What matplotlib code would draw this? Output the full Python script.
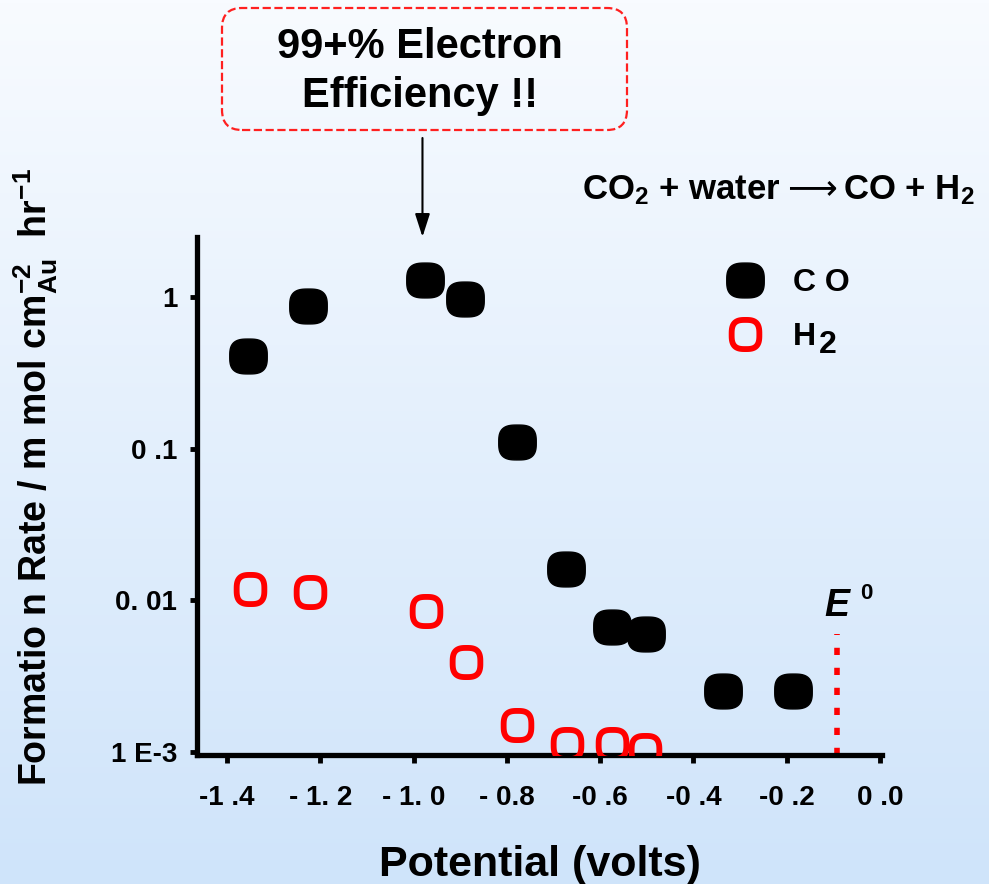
import numpy as np
import matplotlib
matplotlib.use('Agg')
import matplotlib.pyplot as plt
from matplotlib.path import Path
from matplotlib.patches import FancyBboxPatch
from matplotlib.colors import LinearSegmentedColormap

# data
co_v = [-1.355, -1.227, -0.975, -0.890, -0.779, -0.674, -0.574, -0.502, -0.337, -0.187]
co_rate = [0.41, 0.88, 1.30, 0.97, 0.11, 0.016, 0.0066, 0.0060, 0.0025, 0.0025]
h2_v = [-1.350, -1.223, -0.974, -0.888, -0.779, -0.672, -0.575, -0.504]
h2_rate = [0.0118, 0.0113, 0.0085, 0.0039, 0.00149, 0.00113, 0.00113, 0.00102]
e0_v = -0.092
e0_top = 0.006

x_ticks = [-1.4, -1.2, -1.0, -0.8, -0.6, -0.4, -0.2, 0.0]
x_labels = ['-1 .4', '- 1. 2', '- 1. 0', '- 0.8', '-0 .6', '-0 .4', '-0 .2', '0 .0']
y_ticks = [1, 0.1, 0.01, 0.001]
y_labels = ['1', '0 .1', '0. 01', '1 E-3']

plt.rcParams.update({
    'font.family': ['Liberation Sans', 'DejaVu Sans'],
    'font.weight': 'bold',
    'axes.labelweight': 'bold',
    'mathtext.fontset': 'custom',
    'mathtext.bf': 'Liberation Sans:bold',
    'mathtext.rm': 'Liberation Sans:bold',
    'mathtext.it': 'Liberation Sans:bold:italic',
    'mathtext.default': 'bf',
})

# rounded-square marker shapes
t = np.linspace(0, 2 * np.pi, 100)
sx = np.sign(np.cos(t)) * np.abs(np.cos(t)) ** 0.68
sy = np.sign(np.sin(t)) * np.abs(np.sin(t)) ** 0.68
co_marker = Path(np.column_stack([sx, sy * 0.93]), closed=True)
h2_marker = Path(np.column_stack([sx * 0.95, sy]), closed=True)

fig = plt.figure(figsize=(9.89, 8.84), dpi=100)

# light blue vertical gradient background
bg = fig.add_axes([0, 0, 1, 1], zorder=-10)
cmap = LinearSegmentedColormap.from_list('bg', ['#cfe4fa', '#f8fbff'])
bg.imshow(np.linspace(0, 1, 256).reshape(-1, 1)[::-1], aspect='auto', cmap=cmap,
          extent=[0, 1, 0, 1])
bg.axis('off')

ax = fig.add_axes([0.199, 0.146, 0.693, 0.586])
ax.set_facecolor('none')

ax.plot(co_v, co_rate, linestyle='none', marker=co_marker, markersize=27,
        color='black', label='C O', zorder=3)
ax.plot(h2_v, h2_rate, linestyle='none', marker=h2_marker, markersize=21,
        markerfacecolor='none', markeredgecolor='#ff0000', markeredgewidth=4.2,
        label='H', zorder=4)

ax.vlines(e0_v, 0.00095, e0_top, colors='#ff0000', linewidth=4,
          linestyles=(0, (1.3, 2.3)), zorder=2)
ax.annotate('E', xy=(e0_v, e0_top), xytext=(0, 20), textcoords='offset points',
            style='italic', fontsize=27, ha='center', va='center')
ax.annotate('0', xy=(e0_v, e0_top), xytext=(21, 29), textcoords='offset points',
            fontsize=16, ha='center', va='center')

ax.set_yscale('log')
ax.set_xlim(-1.465, 0.005)
ax.set_ylim(0.00095, 2.5)
ax.set_xticks(x_ticks)
ax.set_xticklabels(x_labels)
ax.set_yticks(y_ticks)
ax.set_yticklabels(y_labels)
ax.minorticks_off()
ax.tick_params(axis='x', direction='out', length=6, width=3.5, labelsize=20, pad=16)
ax.tick_params(axis='y', direction='out', length=5, width=3.5, labelsize=20, pad=9)

for s in ['top', 'right']:
    ax.spines[s].set_visible(False)
for s in ['left', 'bottom']:
    ax.spines[s].set_linewidth(3.8)

ax.set_ylabel('Formatio n Rate / m mol cm$^{-2}_{Au}$  hr$^{-1}$', fontsize=27,
              fontweight='bold')
ax.yaxis.set_label_coords(-0.2, 0.537)

fig.text(0.546, 0.022, 'Potential (volts)', fontsize=31, ha='center', va='center')

leg = ax.legend(loc='upper left', bbox_to_anchor=(0.735, 0.995), frameon=False,
                handlelength=1.0, handletextpad=1.0, labelspacing=0.75,
                numpoints=1, prop={'weight': 'bold', 'size': 23})

# callout box with arrow
box = FancyBboxPatch((2.22, 7.54), 4.05, 1.22,
                     boxstyle='round,pad=0,rounding_size=0.2',
                     transform=fig.dpi_scale_trans, facecolor='none',
                     edgecolor='#ff2020', linestyle='--', linewidth=1.6)
fig.patches.append(box)
fig.text(0.425, 0.919, '99+% Electron\nEfficiency !!', fontsize=30, ha='center',
         va='center', linespacing=1.3)

ax.annotate('', xy=(co_v[2] - 0.006, 1.0), xycoords=('data', 'axes fraction'),
            xytext=(co_v[2] - 0.006, 884 - 138), textcoords=('data', 'figure pixels'),
            arrowprops=dict(arrowstyle='-|>,head_length=1.4,head_width=0.45',
                            color='black', lw=1.5, shrinkA=0, shrinkB=0))

# reaction line, built from pieces so the long arrow comes from DejaVu Sans
base_y = 884 - 199
r1 = fig.text(582, base_y, 'CO$_{2}$ + water', fontsize=25, ha='left',
              va='baseline', transform=None)
fig.canvas.draw()
b1 = r1.get_window_extent()
r2 = fig.text(b1.x1 + 6, base_y + 1, '\u27f6', fontsize=25, ha='left',
              va='baseline', family='DejaVu Sans', fontweight='normal',
              transform=None)
fig.canvas.draw()
b2 = r2.get_window_extent()
fig.text(b2.x1 + 6, base_y, 'CO + H$_{2}$', fontsize=25, ha='left',
         va='baseline', transform=None)

# full-size lowered "2" after the H legend entry
hb = leg.get_texts()[1].get_window_extent()
fig.text(hb.x1 + 3, hb.y0 - 8, '2', fontsize=23, ha='left', va='bottom',
         transform=None)

fig.savefig('out.png', dpi=100)
